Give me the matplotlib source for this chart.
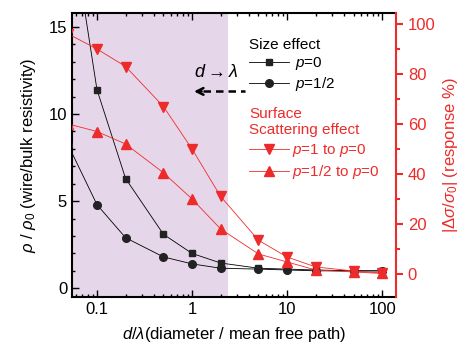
import numpy as np
import matplotlib
matplotlib.use("Agg")
import matplotlib.pyplot as plt
from matplotlib.ticker import MultipleLocator

plt.rcParams['font.family'] = ['Liberation Sans', 'DejaVu Sans']
plt.rcParams['mathtext.fontset'] = 'custom'
plt.rcParams['mathtext.rm'] = 'Liberation Sans'
plt.rcParams['mathtext.it'] = 'Liberation Sans:italic'

# dati
x_size = [0.05, 0.1, 0.2, 0.5, 1, 2, 5, 10, 20, 50, 100]
rho_p0 = [22.0, 11.4, 6.3, 3.1, 2.0, 1.45, 1.15, 1.1, 1.05, 1.0, 1.0]
rho_p05 = [8.2, 4.8, 2.9, 1.8, 1.4, 1.15, 1.1, 1.05, 1.0, 1.0, 1.0]

x_resp = [0.05, 0.1, 0.2, 0.5, 1, 2, 5, 10, 20, 50, 100]
resp_p1 = [96, 90, 83, 67, 50, 31, 13.5, 6.8, 2.8, 1.2, 0.4]
resp_p05 = [60, 57, 52, 40.5, 30, 18, 8, 4.8, 1.6, 0.8, 0.2]

red = '#ee2b2b'

fig = plt.figure(figsize=(4.6, 3.48), dpi=100)
ax = fig.add_axes([0.1565, 0.1466, 0.861 - 0.1565, 0.9626 - 0.1466])
ax.set_xscale('log')
ax.set_xlim(0.0546, 140)
ax.set_ylim(-0.5, 15.8)
ax.axvspan(0.0546, 2.4, color='#e6d6ea', zorder=0, lw=0)

ax.plot(x_size, rho_p0, '-s', color='black', lw=0.6, ms=5, mfc='#222222', mec='#222222',
        label='$p$=0', zorder=3)
ax.plot(x_size, rho_p05, '-o', color='black', lw=0.6, ms=5.5, mfc='#222222', mec='#222222',
        label='$p$=1/2', zorder=3)

ax.yaxis.set_major_locator(MultipleLocator(5))
ax.yaxis.set_minor_locator(MultipleLocator(1))
ax.tick_params(which='both', direction='in', top=True, labelsize=12, width=1)
ax.tick_params(which='major', length=5)
ax.tick_params(which='minor', length=2.5)
ax.set_xticks([0.1, 1, 10, 100])
ax.set_xticklabels(['0.1', '1', '10', '100'])
for s in ['left', 'bottom', 'top']:
    ax.spines[s].set_linewidth(1.5)
ax.spines['right'].set_visible(False)
ax.set_xlabel('$d/\\lambda$(diameter / mean free path)', fontsize=12, labelpad=6)
ax.set_ylabel('$\\rho$ / $\\rho_0$ (wire/bulk resistivity)', fontsize=12, labelpad=8)

# freccia d -> lambda
ax.text(1.8, 12.4, '$d \\rightarrow \\lambda$', fontsize=13, ha='center', va='center')
ax.plot([1.3, 3.6], [11.3, 11.3], '--', color='black', lw=1.8, dashes=(3, 2))
ax.annotate('', xy=(0.98, 11.3), xytext=(1.35, 11.3),
            arrowprops=dict(arrowstyle='->', lw=1.8, color='black', mutation_scale=12))

ax2 = ax.twinx()
ax2.set_ylim(-9.2, 104.4)
ax2.plot(x_resp, resp_p1, '-v', color=red, lw=0.6, ms=6.5, label='$p$=1 to $p$=0', zorder=4)
ax2.plot(x_resp, resp_p05, '-^', color=red, lw=0.6, ms=6.5, label='$p$=1/2 to $p$=0', zorder=4)
ax2.yaxis.set_major_locator(MultipleLocator(20))
ax2.yaxis.set_minor_locator(MultipleLocator(10))
ax2.set_yticks(np.arange(0, 101, 20))
ax2.tick_params(axis='y', which='both', direction='out', colors=red, labelsize=12, width=1.5)
ax2.tick_params(axis='y', which='major', length=5)
ax2.tick_params(axis='y', which='minor', length=3)
ax2.spines['right'].set_color(red)
ax2.spines['right'].set_linewidth(1.5)
for s in ['left', 'bottom', 'top']:
    ax2.spines[s].set_visible(False)
ax2.set_ylabel('$|\\Delta\\sigma/\\sigma_0|$ (response %)', fontsize=12, color=red, labelpad=4)

h1, l1 = ax.get_legend_handles_labels()
leg1 = ax2.legend(h1, l1, title='Size effect', loc='upper left', bbox_to_anchor=(0.518, 0.922),
                  bbox_transform=fig.transFigure, frameon=False, fontsize=11, title_fontsize=11,
                  handlelength=2.6, handletextpad=0.4, labelspacing=0.2, borderpad=0.2,
                  alignment='left')
ax2.add_artist(leg1)
h2, l2 = ax2.get_legend_handles_labels()
leg2 = ax2.legend(h2, l2, title='Surface\nScattering effect', loc='upper left',
                  bbox_to_anchor=(0.518, 0.723), bbox_transform=fig.transFigure,
                  frameon=False, fontsize=11, title_fontsize=11, handlelength=2.6,
                  handletextpad=0.2, labelspacing=0.3, borderpad=0.2, alignment='left')
leg2.get_title().set_color(red)
for t in leg2.get_texts():
    t.set_color(red)

fig.savefig('out.png', dpi=100)
